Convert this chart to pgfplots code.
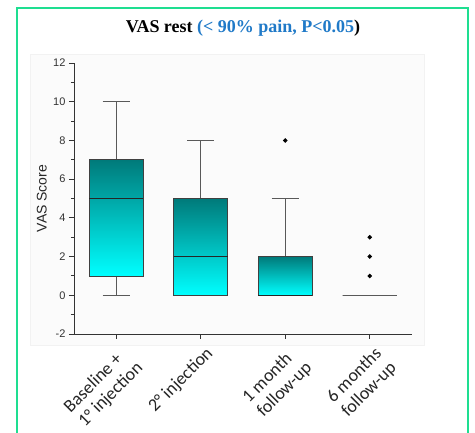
\documentclass[border=0pt]{standalone}
\usepackage{pgfplots}
\pgfplotsset{compat=1.18}
\usepgfplotslibrary{statistics}
\usepackage{fontspec}
\setmainfont{Liberation Sans}
\newfontfamily\titlefont{Liberation Serif}
\newfontfamily\catfont{Carlito}
\definecolor{frameg}{RGB}{30,222,145}
\definecolor{tealtop}{RGB}{0,122,122}
\definecolor{tealmid}{RGB}{0,205,205}
\definecolor{cyanbot}{RGB}{0,255,255}
\definecolor{titleblue}{RGB}{32,122,200}
\begin{document}
\begin{tikzpicture}[x=1pt,y=1pt]
\useasboundingbox (0,0) rectangle (475,433);
\fill[white] (0,0) rectangle (475,433);
\draw[black!5, fill=black!1.5] (30,88) rectangle (424,379);
\draw[frameg, line width=2pt] (16.5,-20) -- (16.5,425) -- (468,425) -- (468,-20);
\node[font=\titlefont\bfseries\fontsize{18}{21}\selectfont, anchor=base] at (243,400) {VAS rest \textcolor{titleblue}{(< 90\% pain, P<0.05}{)}};
\begin{axis}[
  at={(74pt,99pt)}, anchor=south west, scale only axis,
  width=338pt, height=271pt,
  xmin=-0.5, xmax=3.5, ymin=-2, ymax=12,
  axis x line*=bottom, axis y line*=left,
  axis line style={draw=black!80, line width=0.9pt},
  ytick={-2,0,2,4,6,8,10,12}, minor ytick={-1,1,3,5,7,9,11},
  xtick={0,1,2,3},
  xticklabels={{Baseline +\\1° injection},{2° injection},{1 month\\follow-up},{6 months\\follow-up}},
  tick align=outside, major tick length=5pt, minor tick length=3pt,
  tick style={draw=black!80, line width=0.9pt},
  /pgf/number format/assume math mode=true,
  yticklabel style={font=\fontsize{11}{12}\selectfont, text=black!80},
  xticklabel style={font=\catfont\fontsize{18}{20.5}\selectfont, text=black!85, xshift=4pt, yshift=-5pt, rotate=45, anchor=north east, align=left, inner sep=1pt},
  ylabel={VAS Score},
  ylabel style={font=\fontsize{14}{15}\selectfont, text=black!85, at={(axis description cs:-0.095,0.5)}, anchor=center},
  boxplot/draw direction=y,
  boxplot/box extend=0.64,
  boxplot/whisker extend=0.32,
  clip=false,
]
\addplot[draw=black!75, line width=0.8pt, mark=*, mark size=1.8pt, mark options={fill=black, draw=black},
  boxplot prepared={lower whisker=0, lower quartile=1, median=5, upper quartile=7, upper whisker=10, draw position=0},
  boxplot/every box/.style={top color=tealtop, middle color=tealmid, bottom color=cyanbot, draw=black!75},
  boxplot/every whisker/.style={draw=black!65},
  boxplot/every median/.style={draw=black!85, line width=0.9pt}]
  coordinates {};
\addplot[draw=black!75, line width=0.8pt, mark=*, mark size=1.8pt, mark options={fill=black, draw=black},
  boxplot prepared={lower whisker=0, lower quartile=0, median=2, upper quartile=5, upper whisker=8, draw position=1},
  boxplot/every box/.style={top color=tealtop, middle color=tealmid, bottom color=cyanbot, draw=black!75},
  boxplot/every whisker/.style={draw=black!65},
  boxplot/every median/.style={draw=black!85, line width=0.9pt}]
  coordinates {};
\addplot[draw=black!75, line width=0.8pt, mark=*, mark size=1.8pt, mark options={fill=black, draw=black},
  boxplot prepared={lower whisker=0, lower quartile=0, median=0, upper quartile=2, upper whisker=5, draw position=2},
  boxplot/every box/.style={top color=tealtop, middle color=tealmid, bottom color=cyanbot, draw=black!75},
  boxplot/every whisker/.style={draw=black!65},
  boxplot/every median/.style={draw=black!85, line width=0.9pt}]
  table[row sep=\\, y index=0] {v\\ 8\\};
\addplot[draw=black!65, line width=0.8pt, mark=*, mark size=1.8pt, mark options={fill=black, draw=black},
  boxplot prepared={lower whisker=0, lower quartile=0, median=0, upper quartile=0, upper whisker=0, draw position=3},
  boxplot/every box/.style={draw=black!65},
  boxplot/every whisker/.style={draw=black!65},
  boxplot/every median/.style={draw=black!65}]
  table[row sep=\\, y index=0] {v\\ 1\\ 2\\ 3\\};
\end{axis}
\end{tikzpicture}
\end{document}
